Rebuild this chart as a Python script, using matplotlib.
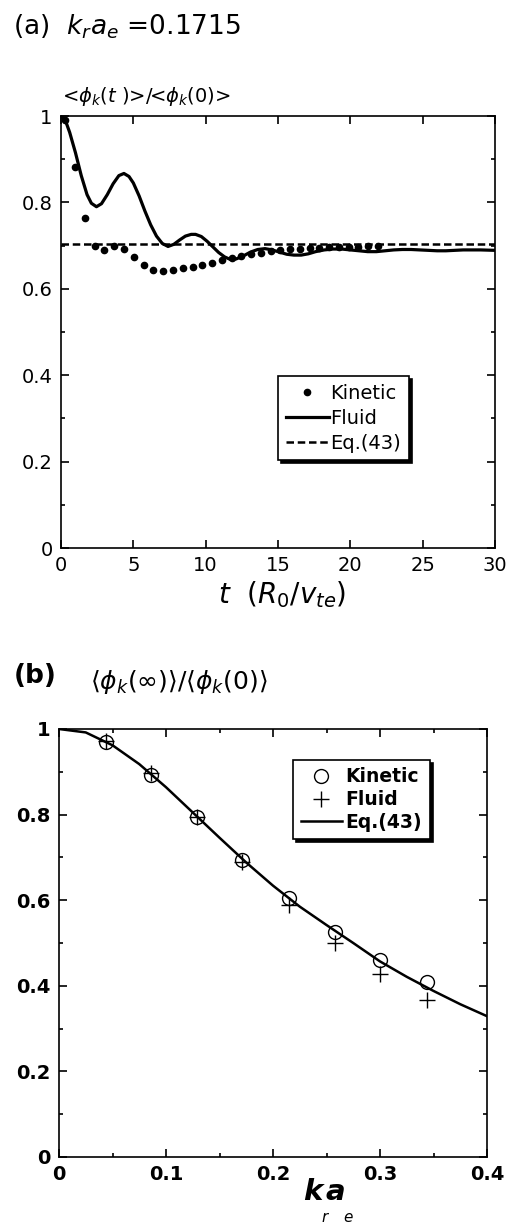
import matplotlib
matplotlib.use('Agg')
import matplotlib.pyplot as plt
import numpy as np

plt.rcParams['font.family'] = ['DejaVu Sans']
plt.rcParams['mathtext.fontset'] = 'dejavusans'

# %% Data, panel (a): time evolution at k_r a_e = 0.1715
kin_t = [0.28, 0.97, 1.66, 2.35, 3.0, 3.69, 4.36, 5.05, 5.71, 6.38, 7.07, 7.74,
         8.41, 9.10, 9.77, 10.44, 11.11, 11.80, 12.46, 13.13, 13.82, 14.49,
         15.16, 15.83, 16.52, 17.19, 17.86, 18.55, 19.22, 19.89, 20.55, 21.24, 21.91]
kin_y = [0.990, 0.883, 0.764, 0.700, 0.689, 0.698, 0.693, 0.674, 0.654, 0.643,
         0.641, 0.643, 0.647, 0.651, 0.654, 0.660, 0.666, 0.671, 0.677, 0.681,
         0.684, 0.687, 0.689, 0.691, 0.692, 0.694, 0.695, 0.696, 0.696, 0.697,
         0.697, 0.698, 0.698]

fluid_t = [0.0, 0.3, 0.6, 1.0, 1.4, 1.8, 2.1, 2.45, 2.8, 3.2, 3.6, 4.0, 4.35, 4.7,
           5.0, 5.4, 5.8, 6.2, 6.6, 7.0, 7.4, 7.8, 8.2, 8.6, 9.0, 9.3, 9.7, 10.1,
           10.5, 10.9, 11.3, 11.7, 12.1, 12.6, 13.1, 13.6, 14.1, 14.6, 15.1, 15.6,
           16.1, 16.6, 17.1, 17.6, 18.2, 18.8, 19.4, 20.0, 20.6, 21.2, 21.8, 22.4,
           23.0, 23.6, 24.2, 24.8, 25.4, 26.0, 26.6, 27.2, 27.8, 28.4, 29.0, 30.0]
fluid_y = [1.000, 0.990, 0.962, 0.915, 0.862, 0.818, 0.798, 0.790, 0.797, 0.818,
           0.843, 0.862, 0.867, 0.860, 0.845, 0.815, 0.780, 0.748, 0.722, 0.705,
           0.698, 0.703, 0.713, 0.722, 0.726, 0.726, 0.721, 0.710, 0.697, 0.684,
           0.674, 0.668, 0.669, 0.676, 0.685, 0.691, 0.693, 0.690, 0.685, 0.680,
           0.678, 0.678, 0.681, 0.686, 0.690, 0.692, 0.692, 0.690, 0.688, 0.686,
           0.686, 0.688, 0.690, 0.691, 0.691, 0.690, 0.689, 0.688, 0.688, 0.689,
           0.690, 0.690, 0.690, 0.689]

eq43_level = 0.704  # residual level from Eq.(43)

# %% Data, panel (b): residual level vs k_r a_e
kra = [0.0439, 0.086, 0.1287, 0.1713, 0.2147, 0.258, 0.300, 0.3437]
res_kin = [0.969, 0.893, 0.794, 0.694, 0.604, 0.526, 0.460, 0.408]
res_fluid = [0.973, 0.898, 0.794, 0.690, 0.589, 0.499, 0.428, 0.367]

eq_x = [0.0, 0.025, 0.05, 0.075, 0.1, 0.125, 0.15, 0.175, 0.2, 0.225, 0.25,
        0.275, 0.3, 0.325, 0.35, 0.375, 0.4]
eq_y = [1.000, 0.992, 0.962, 0.918, 0.864, 0.805, 0.746, 0.688, 0.634, 0.585,
        0.542, 0.500, 0.457, 0.421, 0.388, 0.357, 0.329]

W, H = 514, 1225
fig = plt.figure(figsize=(W / 100, H / 100), dpi=100)


def box(l, t, r, b):
    return [l / W, 1 - b / H, (r - l) / W, (b - t) / H]


def style_axes(ax):
    for s in ax.spines.values():
        s.set_linewidth(1.2)
    ax.tick_params(which='both', direction='in', top=True, right=True,
                   width=1.2, labelsize=14, pad=6)
    ax.tick_params(which='major', length=6)
    ax.tick_params(which='minor', length=3)


# %% Panel (a)
ax1 = fig.add_axes(box(61, 116, 495, 548))
ax1.plot(kin_t, kin_y, 'o', color='k', markersize=4.5, label='Kinetic', clip_on=False)
ax1.plot(fluid_t, fluid_y, '-', color='k', lw=2.3, label='Fluid')
ax1.axhline(eq43_level, color='k', lw=1.8, ls=(0, (3, 1.5)), label='Eq.(43)')
ax1.set_xlim(0, 30)
ax1.set_ylim(0, 1)
ax1.set_xticks([0, 5, 10, 15, 20, 25, 30])
ax1.set_yticks([0, 0.2, 0.4, 0.6, 0.8, 1])
ax1.set_yticklabels(['0', '0.2', '0.4', '0.6', '0.8', '1'])
ax1.set_yticks(np.arange(0, 1.01, 0.1), minor=True)
style_axes(ax1)
leg1 = ax1.legend(loc='upper left', bbox_to_anchor=(0.5, 0.398), borderaxespad=0,
                  fontsize=14, fancybox=False, edgecolor='k', framealpha=1,
                  shadow={'color': 'k', 'alpha': 1}, handlelength=2.2,
                  handletextpad=0.1, labelspacing=0.3, borderpad=0.4)
leg1.get_frame().set_linewidth(1.2)

fig.text(13 / W, 1 - 27 / H, r'(a)  $k_{r}a_{e}$ =0.1715', fontsize=19, va='center')
fig.text(62 / W, 1 - 97 / H, r'<$\phi_k$($t$ )>/<$\phi_k$(0)>', fontsize=14, va='center')
fig.text(282 / W, 1 - 595 / H, r'$t$  ($R_0$/$v_{te}$)', fontsize=20,
         ha='center', va='center')

# %% Panel (b)
ax2 = fig.add_axes(box(59, 729, 487, 1157))
ax2.plot(kra, res_kin, 'o', mfc='none', mec='k', mew=1.0, markersize=10,
         label='Kinetic')
ax2.plot(kra, res_fluid, '+', color='k', mew=1.0, markersize=11, label='Fluid')
ax2.plot(eq_x, eq_y, '-', color='k', lw=1.8, label='Eq.(43)')
ax2.set_xlim(0, 0.4)
ax2.set_ylim(0, 1)
ax2.set_xticks([0, 0.1, 0.2, 0.3, 0.4])
ax2.set_xticklabels(['0', '0.1', '0.2', '0.3', '0.4'])
ax2.set_xticks(np.arange(0, 0.401, 0.05), minor=True)
ax2.set_yticks([0, 0.2, 0.4, 0.6, 0.8, 1])
ax2.set_yticklabels(['0', '0.2', '0.4', '0.6', '0.8', '1'])
ax2.set_yticks(np.arange(0, 1.01, 0.1), minor=True)
style_axes(ax2)
for lab in ax2.get_xticklabels() + ax2.get_yticklabels():
    lab.set_fontweight('bold')
leg2 = ax2.legend(loc='upper left', bbox_to_anchor=(0.547, 0.928), borderaxespad=0,
                  prop={'size': 13.5, 'weight': 'bold'}, fancybox=False,
                  edgecolor='k', framealpha=1, shadow={'color': 'k', 'alpha': 1},
                  handlelength=2.2, handletextpad=0.2, labelspacing=0.2,
                  borderpad=0.4)
leg2.get_frame().set_linewidth(1.2)

fig.text(14 / W, 1 - 676 / H, '(b)', fontsize=19, fontweight='bold', va='center')
fig.text(90 / W, 1 - 682 / H,
         r'$\langle\phi_k(\infty)\rangle/\langle\phi_k(0)\rangle$',
         fontsize=18, va='center')

# x label of (b): bold italic k a with subscripts r, e
fig.text(303 / W, 1 - 1200 / H, 'k', fontsize=21, fontweight='bold', style='italic')
fig.text(326 / W, 1 - 1200 / H, 'a', fontsize=21, fontweight='bold', style='italic')
fig.text(321 / W, 1 - 1222 / H, 'r', fontsize=11, style='italic')
fig.text(343 / W, 1 - 1222 / H, 'e', fontsize=11, style='italic')

fig.savefig('out.png', dpi=100)
